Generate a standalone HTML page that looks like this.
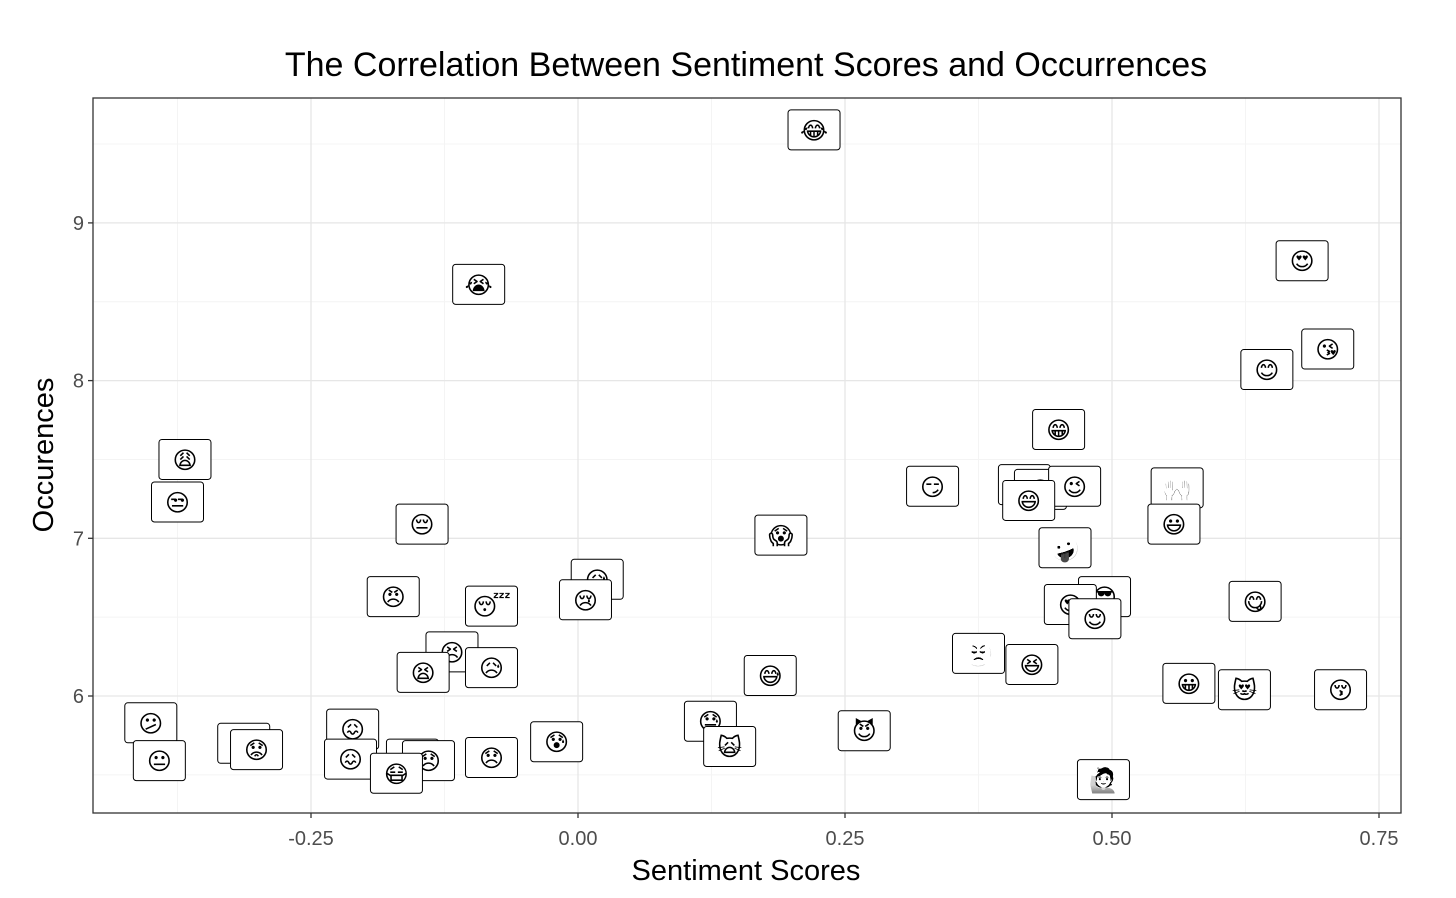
<!DOCTYPE html>
<html><head><meta charset="utf-8"><style>
body{margin:0;background:#fff;}
svg{display:block;font-family:"Liberation Sans",sans-serif;}
.emo{filter:grayscale(1) contrast(3);}
</style></head><body>
<svg id="chart" width="1456" height="898"></svg>
<script>
const labels=["😂","😭","😍","😘","😊","😁","😩","😒","😏","😆","😁","😉","😄","🙌","😃","😔","😱","🤪","😥","😢","😠","😴","😋","😎","😍","😌","😣","😫","😥","😤","😆","😅","😀","😻","😚","😕","😐","😟","😟","😖","😖","😞","😞","😷","😞","😰","😓","🙀","😈","🙋"];
const xs=[0.221,-0.093,0.678,0.702,0.645,0.450,-0.368,-0.375,0.332,0.418,0.433,0.465,0.422,0.561,0.558,-0.146,0.190,0.456,0.018,0.007,-0.173,-0.081,0.634,0.493,0.461,0.484,-0.118,-0.145,-0.081,0.375,0.425,0.180,0.572,0.624,0.714,-0.400,-0.392,-0.313,-0.301,-0.211,-0.213,-0.155,-0.140,-0.170,-0.081,-0.020,0.124,0.142,0.268,0.492];
const ys=[9.59,8.61,8.76,8.20,8.07,7.69,7.50,7.23,7.33,7.34,7.31,7.33,7.24,7.32,7.09,7.09,7.02,6.94,6.74,6.61,6.63,6.57,6.60,6.63,6.58,6.49,6.28,6.15,6.18,6.27,6.20,6.13,6.08,6.04,6.04,5.83,5.59,5.70,5.66,5.79,5.60,5.60,5.59,5.51,5.61,5.71,5.84,5.68,5.78,5.47];
const xTicks=[-0.25,0,0.25,0.5,0.75];
const xTickLabels=["-0.25","0.00","0.25","0.50","0.75"];
const yTicks=[6,7,8,9];
const yTickLabels=["6","7","8","9"];
const xMinor=[-0.375,-0.125,0.125,0.375,0.625];
const yMinor=[5.5,6.5,7.5,8.5,9.5];

const P={l:93,r:1401,t:98,b:813};
const X=v=>578+v*1068;
const Y=v=>696-(v-6)*157.7;
const svg=document.getElementById('chart');
const NS='http://www.w3.org/2000/svg';
function el(tag,attrs,parent){const e=document.createElementNS(NS,tag);for(const k in attrs)e.setAttribute(k,attrs[k]);(parent||svg).appendChild(e);return e;}

const grid=el('g',{});


xMinor.forEach(v=>el('line',{x1:X(v),x2:X(v),y1:P.t,y2:P.b,stroke:'#f4f4f4','stroke-width':1},grid));
yMinor.forEach(v=>el('line',{x1:P.l,x2:P.r,y1:Y(v),y2:Y(v),stroke:'#f4f4f4','stroke-width':1},grid));
xTicks.forEach(v=>el('line',{x1:X(v),x2:X(v),y1:P.t,y2:P.b,stroke:'#e6e6e6','stroke-width':1.3},grid));
yTicks.forEach(v=>el('line',{x1:P.l,x2:P.r,y1:Y(v),y2:Y(v),stroke:'#e6e6e6','stroke-width':1.3},grid));

const pts=el('g',{});


labels.forEach((lab,i)=>{
  const g=el('g',{},pts);
  
  
  const cx=X(xs[i]),cy=Y(ys[i]);
  el('rect',{x:cx-26,y:cy-20,width:52,height:40,rx:3,fill:'#fff',stroke:'#000','stroke-width':1},g);
  const t=el('text',{x:cx,y:cy+9,'text-anchor':'middle','font-size':24,'font-family':'"DejaVu Sans",sans-serif',fill:'#000','class':'emo'},g);
  t.textContent=lab;
});

const frame=el('rect',{x:P.l,y:P.t,width:P.r-P.l,height:P.b-P.t,fill:'none',stroke:'#333','stroke-width':1.3});



xTicks.forEach((v,i)=>{
  el('line',{x1:X(v),x2:X(v),y1:P.b,y2:P.b+5,stroke:'#333','stroke-width':1.3});
  const t=el('text',{x:X(v),y:P.b+32,'text-anchor':'middle','font-size':20,fill:'#4d4d4d'});
  
  
  t.textContent=xTickLabels[i];
});
yTicks.forEach((v,i)=>{
  el('line',{x1:P.l-5,x2:P.l,y1:Y(v),y2:Y(v),stroke:'#333','stroke-width':1.3});
  const t=el('text',{x:P.l-9,y:Y(v)+7,'text-anchor':'end','font-size':20,fill:'#4d4d4d'});
  
  
  t.textContent=yTickLabels[i];
});
const tt=el('text',{x:746,y:76,'text-anchor':'middle','font-size':34,fill:'#000'});


tt.textContent='The Correlation Between Sentiment Scores and Occurrences';
const xt=el('text',{x:746,y:880,'text-anchor':'middle','font-size':29,fill:'#000'});


xt.textContent='Sentiment Scores';
const yt=el('text',{x:0,y:0,'text-anchor':'middle','font-size':29,fill:'#000',transform:'translate(53,455) rotate(-90)'});


yt.textContent='Occurences';
</script>
</body></html>
